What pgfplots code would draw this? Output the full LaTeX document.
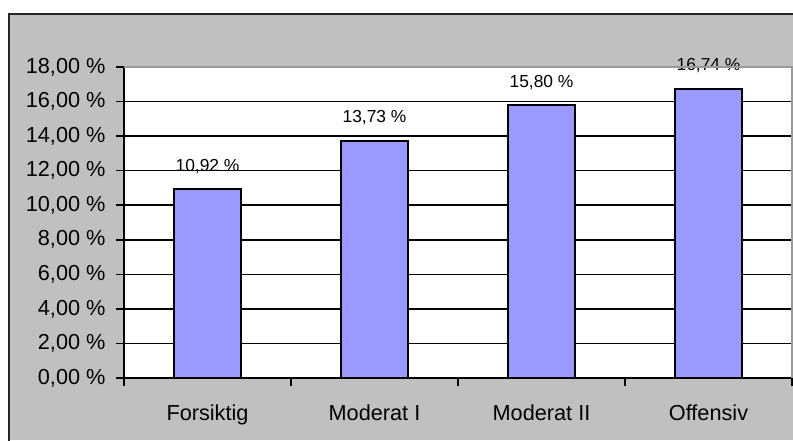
\documentclass[border=0pt]{standalone}
\usepackage{fontspec}
\setmainfont{Liberation Sans}
\usepackage{pgfplots}
\pgfplotsset{compat=1.18}
\definecolor{panelgray}{HTML}{C0C0C0}
\definecolor{barblue}{HTML}{9999FF}

\begin{document}
\begin{tikzpicture}[x=1pt,y=1pt]
\useasboundingbox (0,0) rectangle (793,440);
\fill[white] (0,0) rectangle (793,440);
% chart area panel
\fill[panelgray] (9,0) rectangle (793,426);
\draw[line width=2pt, black!85] (9,-2) -- (9,426) -- (795,426);
\begin{axis}[
  at={(124pt,62pt)}, anchor=south west,
  width=668pt, height=311pt, scale only axis,
  xmin=-0.5, xmax=3.5, ymin=0, ymax=18,
  axis background/.style={fill=white},
  axis lines=left,
  axis line style={-, line width=1.5pt, black},
  tick align=outside,
  major tick length=8pt,
  every tick/.style={black, line width=1.5pt},
  /pgf/number format/assume math mode=true,
  ytick={0,2,...,18},
  yticklabel={\pgfmathprintnumber[fixed,fixed zerofill,precision=2,use comma]{\tick}~\%},
  yticklabel style={font=\fontsize{21.7}{24}\selectfont, xshift=-7pt},
  extra y ticks={2,4,...,16},
  extra y tick labels={},
  extra y tick style={ymajorgrids=true, major tick length=0pt, grid style={black, line width=1.5pt}},
  xtick={-0.5,0.5,1.5,2.5,3.5},
  xticklabels={},
  extra x ticks={0,1,2,3},
  extra x tick labels={Forsiktig,Moderat I,Moderat II,Offensiv},
  extra x tick style={major tick length=0pt, xticklabel style={font=\fontsize{21.7}{24}\selectfont, yshift=-23pt}},
  ybar, bar width=67pt,
  nodes near coords={\pgfmathprintnumber[fixed,fixed zerofill,precision=2,use comma]{\pgfplotspointmeta}~\%},
  every node near coord/.append style={font=\fontsize{17.4}{20}\selectfont, anchor=base, yshift=18pt, inner sep=0pt},
  point meta=y,
  after end axis/.code={
    \draw[gray!80, line width=1.5pt] (rel axis cs:0,1) -- (rel axis cs:1,1) -- (rel axis cs:1,0);
  },
]
\addplot[fill=barblue, draw=black, line width=2pt] coordinates {
  (0,10.92) (1,13.73) (2,15.80) (3,16.74)
};
\end{axis}
\end{tikzpicture}
\end{document}
